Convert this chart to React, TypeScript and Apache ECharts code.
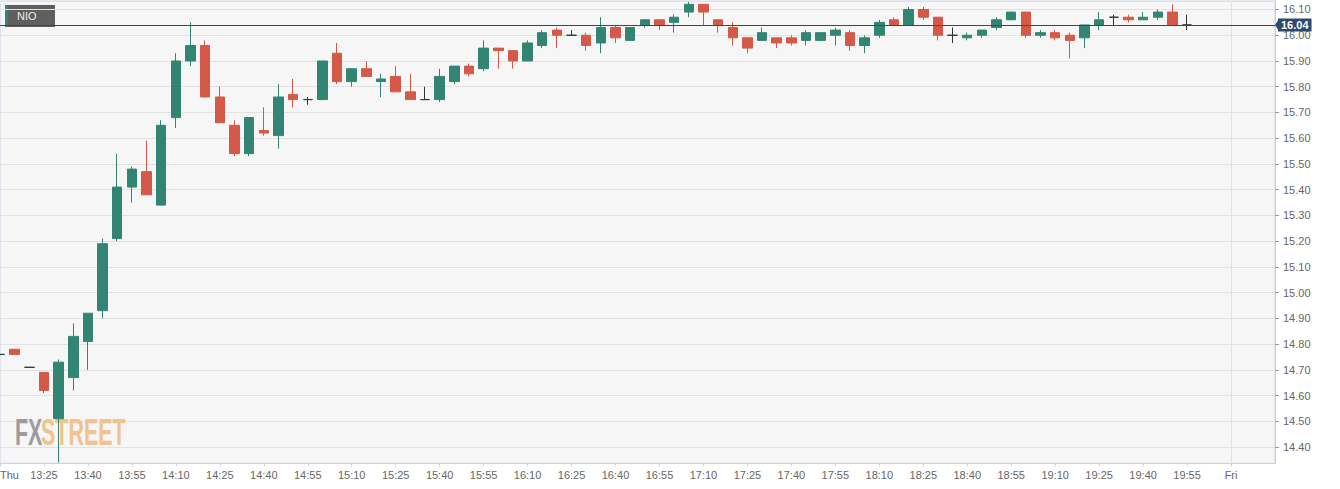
import React, { useEffect, useRef } from "react";
import * as echarts from "echarts";

const categories: string[] = (
  "13:10 13:15 13:20 13:25 13:30 13:35 13:40 13:45 13:50 13:55 " +
  "14:00 14:05 14:10 14:15 14:20 14:25 14:30 14:35 14:40 14:45 14:50 14:55 " +
  "15:00 15:05 15:10 15:15 15:20 15:25 15:30 15:35 15:40 15:45 15:50 15:55 " +
  "16:00 16:05 16:10 16:15 16:20 16:25 16:30 16:35 16:40 16:45 16:50 16:55 " +
  "17:00 17:05 17:10 17:15 17:20 17:25 17:30 17:35 17:40 17:45 17:50 17:55 " +
  "18:00 18:05 18:10 18:15 18:20 18:25 18:30 18:35 18:40 18:45 18:50 18:55 " +
  "19:00 19:05 19:10 19:15 19:20 19:25 19:30 19:35 19:40 19:45 19:50 19:55 " +
  "20:00 20:05 20:10 20:15 20:20 20:25"
).split(" ");

const dayLabels: Record<string, string> = { "13:10": "Thu", "20:10": "Fri" };

const opens = [
  14.76, 14.78, 14.71, 14.69, 14.51, 14.67, 14.81, 14.93, 15.21, 15.41,
  15.47, 15.34, 15.68, 15.9, 15.96, 15.76, 15.65, 15.54, 15.63, 15.61,
  15.77, 15.75, 15.75, 15.93, 15.82, 15.87, 15.82, 15.84, 15.78, 15.75,
  15.75, 15.82, 15.88, 15.87, 15.95, 15.94, 15.9, 15.96, 16.02, 16.0,
  16.0, 15.97, 16.03, 15.98, 16.04, 16.06, 16.05, 16.09, 16.12, 16.06,
  16.03, 15.99, 15.98, 15.99, 15.99, 15.98, 15.98, 16.0, 16.01, 15.96,
  16.0, 16.06, 16.04, 16.1, 16.07, 16.0, 15.99, 16.0, 16.03, 16.06,
  16.09, 16.0, 16.01, 16.0, 15.99, 16.04, 16.07, 16.07, 16.06, 16.07,
  16.09, 16.04,
];
const closes = [
  14.76, 14.76, 14.71, 14.62, 14.73, 14.83, 14.92, 15.19, 15.41, 15.48,
  15.38, 15.65, 15.9, 15.96, 15.76, 15.66, 15.54, 15.68, 15.62, 15.76,
  15.75, 15.75, 15.9, 15.82, 15.87, 15.84, 15.83, 15.78, 15.75, 15.75,
  15.84, 15.88, 15.85, 15.95, 15.94, 15.9, 15.97, 16.01, 16.0, 16.0,
  15.96, 16.03, 15.99, 16.03, 16.06, 16.04, 16.07, 16.12, 16.09, 16.04,
  15.99, 15.95, 16.01, 15.97, 15.97, 16.01, 16.01, 16.02, 15.96, 15.99,
  16.05, 16.04, 16.1, 16.07, 16.0, 16.0, 16.0, 16.02, 16.06, 16.09,
  16.0, 16.01, 15.99, 15.98, 16.04, 16.06, 16.07, 16.06, 16.07, 16.09,
  16.04, 16.04,
];
const lows = [
  14.76, 14.76, 14.71, 14.61, 14.34, 14.62, 14.7, 14.9, 15.2, 15.35,
  15.38, 15.34, 15.64, 15.88, 15.76, 15.66, 15.53, 15.53, 15.61, 15.56,
  15.72, 15.73, 15.75, 15.81, 15.8, 15.84, 15.76, 15.78, 15.75, 15.75,
  15.74, 15.81, 15.84, 15.86, 15.87, 15.87, 15.9, 15.95, 15.95, 16.0,
  15.94, 15.93, 15.97, 15.98, 16.03, 16.02, 16.01, 16.07, 16.04, 16.01,
  15.96, 15.93, 15.98, 15.95, 15.96, 15.96, 15.98, 15.96, 15.94, 15.93,
  15.99, 16.04, 16.04, 16.06, 15.98, 15.97, 15.98, 15.99, 16.02, 16.06,
  15.99, 15.99, 15.98, 15.91, 15.95, 16.02, 16.04, 16.05, 16.06, 16.06,
  16.04, 16.02,
];
const highs = [
  14.76, 14.78, 14.71, 14.69, 14.74, 14.88, 14.92, 15.21, 15.54, 15.49,
  15.59, 15.67, 15.93, 16.05, 15.98, 15.8, 15.67, 15.68, 15.72, 15.81,
  15.83, 15.76, 15.9, 15.97, 15.87, 15.9, 15.85, 15.88, 15.85, 15.8,
  15.87, 15.88, 15.89, 15.98, 15.95, 15.94, 15.98, 16.02, 16.03, 16.02,
  16.01, 16.07, 16.04, 16.03, 16.06, 16.06, 16.08, 16.13, 16.12, 16.06,
  16.05, 15.99, 16.03, 15.99, 16.0, 16.02, 16.01, 16.03, 16.02, 16.0,
  16.06, 16.07, 16.11, 16.11, 16.07, 16.03, 16.01, 16.02, 16.07, 16.09,
  16.09, 16.02, 16.02, 16.01, 16.04, 16.09, 16.08, 16.08, 16.09, 16.1,
  16.12, 16.08,
];

const symbolName = "NIO";
const UP = "#328573";
const DOWN = "#d45948";
const NAVY = "#2c4a6d";
const FONT = "Arial, 'Liberation Sans', sans-serif";

export default function App() {
  const ref = useRef<HTMLDivElement>(null);

  useEffect(() => {
    if (!ref.current) return;
    const chart = echarts.init(ref.current, null, { renderer: "svg" });
    const candles = opens.map((o, i) => [o, closes[i], lows[i], highs[i]]);
    const lastClose = closes[closes.length - 1];
    const labelIdx = (i: number) => i % 3 === 0 && i < categories.length - 1;

    chart.setOption({
      animation: false,
      backgroundColor: "#ffffff",
      grid: {
        left: 0,
        right: 65,
        top: 1,
        height: 462.3,
        containLabel: false,
        outerBoundsMode: "none",
        show: true,
        backgroundColor: "#f6f6f6",
        borderColor: "#cbd2e2",
        borderWidth: 1,
      },
      xAxis: {
        type: "category",
        data: categories,
        boundaryGap: false,
        axisLine: { show: true, lineStyle: { color: "#cbd2e2" } },
        axisTick: {
          show: true,
          length: 3,
          interval: (i: number) => labelIdx(i),
          lineStyle: { color: "#cbd2e2" },
        },
        axisLabel: {
          interval: (i: number) => labelIdx(i),
          formatter: (v: string) => dayLabels[v] ?? v,
          color: "#666",
          fontSize: 11,
          fontFamily: FONT,
          margin: 6,
          alignMinLabel: "left",
        },
        splitLine: {
          show: true,
          interval: (i: number) => dayLabels[categories[i]] === "Fri",
          lineStyle: { color: "#e2e2e2" },
        },
      },
      yAxis: {
        type: "value",
        position: "right",
        min: 14.337,
        max: 16.133,
        splitNumber: 18,
        minInterval: 0.1,
        maxInterval: 0.1,
        scale: true,
        axisLine: { show: true, lineStyle: { color: "#cbd2e2" } },
        axisTick: { show: true, length: 4, lineStyle: { color: "#999" } },
        axisLabel: {
          formatter: (v: number) => v.toFixed(2),
          showMinLabel: false,
          showMaxLabel: false,
          color: "#666",
          fontSize: 11,
          fontFamily: FONT,
          margin: 8,
        },
        splitLine: { show: true, lineStyle: { color: "#e2e2e2" } },
      },
      series: [
        {
          type: "candlestick",
          data: candles,
          barWidth: 10,
          clip: true,
          itemStyle: {
            color: UP,
            color0: DOWN,
            borderColor: UP,
            borderColor0: DOWN,
            borderColorDoji: "#333",
            borderWidth: 1,
          },
          markLine: {
            silent: true,
            symbol: "none",
            lineStyle: { color: NAVY, width: 1, type: "solid" },
            label: {
              show: true,
              position: "end",
              distance: 3,
              formatter: () => lastClose.toFixed(2),
              color: "#fff",
              fontWeight: "bold",
              fontSize: 11,
              fontFamily: FONT,
              lineHeight: 11,
              backgroundColor: NAVY,
              padding: [1, 3, 1, 3],
            },
            data: [{ yAxis: lastClose }],
          },
        },
      ],
      graphic: [
        {
          type: "group",
          x: 5,
          y: 5,
          children: [
            { type: "rect", shape: { x: 0, y: 0, width: 50, height: 22 }, style: { fill: "#5f5f5f" } },
            { type: "rect", shape: { x: 0, y: 0, width: 3, height: 22 }, style: { fill: UP } },
            {
              type: "text",
              x: 12,
              y: 11,
              style: {
                text: symbolName,
                fill: "#eeeeee",
                fontSize: 11,
                fontFamily: FONT,
                textVerticalAlign: "middle",
                verticalAlign: "middle",
              },
            },
          ],
        },
        {
          type: "text",
          x: 15,
          y: 414,
          scaleX: 0.58,
          z: 1,
          style: {
            text: "FX",
            fill: "#9c9c9e",
            fontSize: 37,
            fontWeight: "bold",
            fontFamily: FONT,
            verticalAlign: "top",
          },
        },
        {
          type: "text",
          x: 41,
          y: 414,
          scaleX: 0.58,
          z: 1,
          style: {
            text: "STREET",
            fill: "#f1c38e",
            fontSize: 37,
            fontWeight: "bold",
            fontFamily: FONT,
            verticalAlign: "top",
          },
        },
      ],
    });

    const pt = chart.convertToPixel({ gridIndex: 0 }, [categories.length - 1, lastClose]) as number[];
    if (pt && isFinite(pt[0]) && isFinite(pt[1])) {
      chart.setOption({
        graphic: [
          {
            id: "priceArrow",
            type: "polygon",
            shape: {
              points: [
                [pt[0], pt[1]],
                [pt[0] + 4, pt[1] - 6],
                [pt[0] + 4, pt[1] + 6],
              ],
            },
            style: { fill: NAVY },
            z: 10,
          },
        ],
      });
    }

    return () => chart.dispose();
  }, []);

  return (
    <div
      ref={ref}
      style={{ position: "absolute", left: 0, top: 0, width: 1340, height: 489, background: "#fff" }}
    />
  );
}
